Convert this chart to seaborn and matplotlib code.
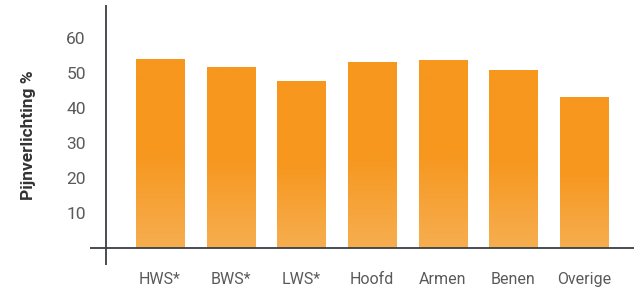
import matplotlib
matplotlib.use("Agg")
import matplotlib.pyplot as plt
import seaborn as sns
import numpy as np
import pandas as pd
from matplotlib.colors import LinearSegmentedColormap

categories = ["HWS*", "BWS*", "LWS*", "Hoofd", "Armen", "Benen", "Overige"]
values = [54.0, 51.8, 47.8, 53.0, 53.8, 50.7, 43.2]
yticks = [10, 20, 30, 40, 50, 60]

sns.set_style("white")
plt.rcParams['font.family'] = ['Roboto', 'DejaVu Sans']

df = pd.DataFrame({"cat": categories, "val": values})

fig = plt.figure(figsize=(6.34, 2.91), dpi=100)
ax = fig.add_axes([90 / 634, 1 - 265 / 291, 1 - 90 / 634, 260 / 291])

sns.barplot(data=df, x="cat", y="val", color="#F7971E", width=0.68,
            saturation=1, ax=ax)

# vertical gradient inside each bar
cmap = LinearSegmentedColormap.from_list("g", ["#F6AE50", "#F7971E", "#F7971E"])
grad = np.linspace(0, 1, 256).reshape(-1, 1)
for p in ax.patches:
    x0, w, h = p.get_x(), p.get_width(), p.get_height()
    im = ax.imshow(grad, cmap=cmap, aspect="auto", origin="lower",
                   extent=[x0, x0 + w, 0, h], zorder=2)
    im.set_clip_path(p)
    p.set_facecolor("none")

ax.set_xlim(-0.99, 6.71)
ax.set_ylim(-4.9, 69.4)
for s in ax.spines.values():
    s.set_visible(False)
ax.axhline(0, color="#3a3f44", lw=1.3, zorder=3)
ax.axvline(-0.76, color="#3a3f44", lw=1.3, zorder=3)

ax.set_yticks(yticks)
ax.set_yticklabels([str(t) for t in yticks], fontsize=12.5, color="#5a5a5a")
ax.set_xticks(range(len(categories)))
ax.set_xticklabels(categories, fontsize=11.5, color="#5a5a5a")
ax.tick_params(axis="y", length=0, pad=3)
ax.tick_params(axis="x", length=0, pad=5)
ax.set_xlabel("")
ax.set_ylabel("Pijnverlichting %", fontsize=12.5, fontweight="bold",
              color="#333333", labelpad=22)

fig.savefig("out.png", dpi=100)
